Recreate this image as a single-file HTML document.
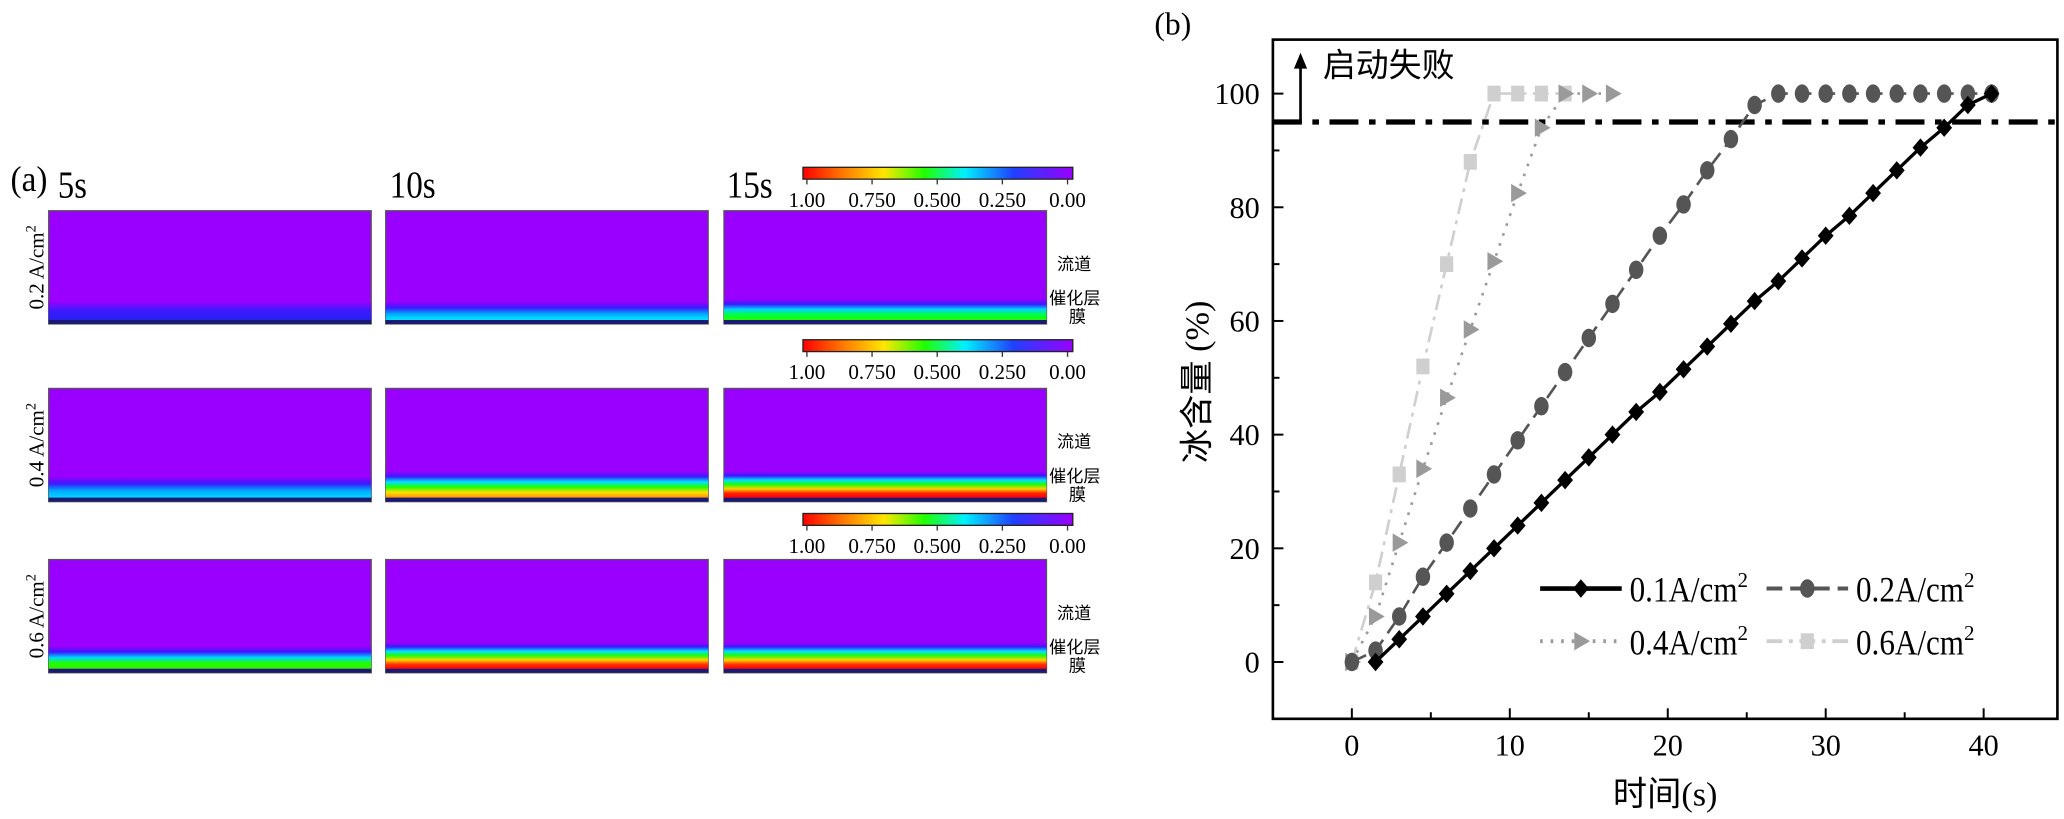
<!DOCTYPE html>
<html><head><meta charset="utf-8"><style>
html,body{margin:0;padding:0;background:#fff;}
svg{display:block;}
text{font-family:"Liberation Serif","Noto Serif CJK SC",serif;}
.cjk{font-family:"Liberation Serif","Noto Sans CJK SC",sans-serif;}
</style></head><body>
<svg id="fig" width="2064" height="819" viewBox="0 0 1568 622" xmlns="http://www.w3.org/2000/svg">
<defs>
<linearGradient id="cbar" x1="0" x2="1" y1="0" y2="0">
<stop offset="0" stop-color="#ff0000"/><stop offset="0.15" stop-color="#ff7a00"/><stop offset="0.3" stop-color="#ffe600"/><stop offset="0.45" stop-color="#20ff00"/><stop offset="0.6" stop-color="#00f0ff"/><stop offset="0.78" stop-color="#2040ff"/><stop offset="1" stop-color="#9a00ff"/>
</linearGradient>
</defs>
<g id="panelA">
<text x="8" y="145" font-size="27" textLength="28" lengthAdjust="spacingAndGlyphs">(a)</text>
<text x="44" y="150" font-size="29" textLength="22" lengthAdjust="spacingAndGlyphs">5s</text>
<text x="296" y="150" font-size="29" textLength="35" lengthAdjust="spacingAndGlyphs">10s</text>
<text x="552" y="150" font-size="29" textLength="35" lengthAdjust="spacingAndGlyphs">15s</text>
</g>
<g id="panelB"></g>
</svg>
<script>
const NS='http://www.w3.org/2000/svg';
function mk(tag,attrs,parent){const e=document.createElementNS(NS,tag);for(const k in attrs)e.setAttribute(k,attrs[k]);parent.appendChild(e);return e;}
const svg=document.getElementById('fig');
const defs=svg.querySelector('defs');
const pA=document.getElementById('panelA');
const pB=document.getElementById('panelB');

// ---- Panel (a) ----
const rowLabels=['0.2 A/cm','0.4 A/cm','0.6 A/cm'];
const rowTops=[160,295,425];
const colLefts=[37,293,550];
const bandColors=[
 [['#9a00ff','#3a1aff','#2a20f0'],['#9a00ff','#3a1aff','#00a8ff','#00e8ff'],['#9a00ff','#3a1aff','#00d8ff','#00ff40','#20ff00']],
 [['#9a00ff','#3a1aff','#00a8ff','#00d8ff'],['#9a00ff','#3a1aff','#00e0ff','#20ff00','#ffe000','#ff9000'],['#9a00ff','#3a1aff','#00e0ff','#20ff00','#ffd000','#ff2000','#ff0000']],
 [['#9a00ff','#3a1aff','#00d8ff','#20ff00','#30f000'],['#9a00ff','#3a1aff','#00e0ff','#20ff00','#ffd000','#ff3000','#ff0000'],['#9a00ff','#3a1aff','#00e0ff','#20ff00','#ffd000','#ff3000','#ff0000']]
];
const bandH=[[14,14,16],[16,20,20],[17,20,20]];
const W=245,H=86;
rowTops.forEach((ty,r)=>{
  const lbl=mk('text',{x:0,y:0,'font-size':16,'text-anchor':'middle',transform:`translate(33,${ty+H/2}) rotate(-90)`},pA);
  lbl.textContent=rowLabels[r];
  const sp=mk('tspan',{dy:-6,'font-size':11},lbl);sp.textContent='2';
  
  
  colLefts.forEach((lx,c)=>{
    const g=mk('g',{},pA);
    
    
    mk('rect',{x:lx,y:ty,width:W,height:H,fill:'#9a00ff',stroke:'#555','stroke-width':1},g);
    const id=`gr${r}${c}`;
    const lg=mk('linearGradient',{id:id,x1:0,x2:0,y1:0,y2:1},defs);
    const cols=bandColors[r][c];
    cols.forEach((col,i)=>mk('stop',{offset:i/(cols.length-1),'stop-color':col},lg));
    const bh=bandH[r][c];
    mk('rect',{x:lx,y:ty+H-bh-3,width:W,height:bh,fill:`url(#${id})`},g);
    mk('rect',{x:lx,y:ty+H-3,width:W,height:3,fill:'#1a1a70'},g);
  });
  const tl=[['流道',803,ty+45],['催化层',797,ty+71],['膜',812,ty+85]];
  tl.forEach(([s,x,y],i)=>{
    const t=mk('text',{x:x,y:y,'font-size':13,class:'cjk'},pA);
    t.textContent=s;
    
    
  });
});
const cbarTops=[127,258,390];
const cbarTicks=['1.00','0.750','0.500','0.250','0.00'];
cbarTops.forEach((cy,i)=>{
  const g=mk('g',{},pA);
  
  
  mk('rect',{x:610,y:cy,width:205,height:9,fill:'url(#cbar)',stroke:'#222','stroke-width':1},g);
  cbarTicks.forEach((s,k)=>{
    const x=613+k*49.5;
    mk('line',{x1:x,x2:x,y1:cy+9,y2:cy+13,stroke:'#333'},g);
    const t=mk('text',{x:x,y:cy+30,'font-size':16,'text-anchor':'middle'},g);
    t.textContent=s;
    
    
  });
});

// ---- Panel (b) chart data ----
const xTickLabels=[0,10,20,30,40];
const yTickLabels=[0,20,40,60,80,100];
const t01=[1.5,3,4.5,6,7.5,9,10.5,12,13.5,15,16.5,18,19.5,21,22.5,24,25.5,27,28.5,30,31.5,33,34.5,36,37.5,39,40.5];
const v01=[0,4,8,12,16,20,24,28,32,36,40,44,47.5,51.5,55.5,59.5,63.5,67,71,75,78.5,82.5,86.5,90.5,94,98,100];
const t02=[0,1.5,3,4.5,6,7.5,9,10.5,12,13.5,15,16.5,18,19.5,21,22.5,24,25.5,27,28.5,30,31.5,33,34.5,36,37.5,39,40.5];
const v02=[0,2,8,15,21,27,33,39,45,51,57,63,69,75,80.5,86.5,92,98,100,100,100,100,100,100,100,100,100,100];
const t04=[0,1.5,3,4.5,6,7.5,9,10.5,12,13.5,15,16.5];
const v04=[0,8,21,34,46.5,58.5,70.5,82.5,94,100,100,100];
const t06=[0,1.5,3,4.5,6,7.5,9,10.5,12,13.5];
const v06=[0,14,33,52,70,88,100,100,100,100];
const threshold=95;

const X0=967,X1=1563,Y0=30,Y1=546;
const xmin=-5,xmax=44.67,ymin=-10,ymax=109.5;
const sx=v=>X0+(v-xmin)/(xmax-xmin)*(X1-X0);
const sy=v=>Y1-(v-ymin)/(ymax-ymin)*(Y1-Y0);

const frame=mk('rect',{x:X0,y:Y0,width:X1-X0,height:Y1-Y0,fill:'none',stroke:'#000','stroke-width':2},pB);


const pl=mk('text',{x:877,y:26,'font-size':24},pB);pl.textContent='(b)';



xTickLabels.forEach(v=>{
  mk('line',{x1:sx(v),x2:sx(v),y1:Y1,y2:Y1-8,stroke:'#000','stroke-width':1.5},pB);
  const t=mk('text',{x:sx(v),y:Y1+28,'font-size':23,'text-anchor':'middle'},pB);t.textContent=v;
  
  
});
for(let v=5;v<=45;v+=10){ if(v<xmax) mk('line',{x1:sx(v),x2:sx(v),y1:Y1,y2:Y1-5,stroke:'#000','stroke-width':1.5},pB); }
yTickLabels.forEach(v=>{
  mk('line',{x1:X0,x2:X0+8,y1:sy(v),y2:sy(v),stroke:'#000','stroke-width':1.5},pB);
  const t=mk('text',{x:X0-10,y:sy(v)+8,'font-size':23,'text-anchor':'end'},pB);t.textContent=v;
  
  
});
for(let v=10;v<=90;v+=20) mk('line',{x1:X0,x2:X0+5,y1:sy(v),y2:sy(v),stroke:'#000','stroke-width':1.5},pB);

const xt=mk('text',{x:1265,y:612,'font-size':26,'text-anchor':'middle',class:'cjk'},pB);xt.textContent='时间(s)';


const yt=mk('text',{x:0,y:0,'font-size':26,'text-anchor':'middle',class:'cjk',transform:'translate(918,290) rotate(-90)'},pB);yt.textContent='冰含量 (%)';



const th=mk('line',{x1:X0,x2:X1,y1:sy(threshold),y2:sy(threshold),stroke:'#000','stroke-width':4,'stroke-dasharray':'22 8 5 8'},pB);


const ar=mk('path',{d:`M${X0} ${sy(threshold)} H988 V50`,fill:'none',stroke:'#000','stroke-width':2},pB);


mk('path',{d:'M983 52 L988 40 L993 52 Z',fill:'#000'},pB);
const ft=mk('text',{x:1005,y:58,'font-size':25,class:'cjk'},pB);ft.textContent='启动失败';



function marker(shape,x,y,col,parent){
  if(shape==='diamond') return mk('path',{d:`M${x} ${y-7} L${x+6} ${y} L${x} ${y+7} L${x-6} ${y} Z`,fill:col},parent);
  if(shape==='circle') return mk('ellipse',{cx:x,cy:y,rx:5.5,ry:7,fill:col},parent);
  if(shape==='tri') return mk('path',{d:`M${x-5} ${y-7} L${x+7} ${y} L${x-5} ${y+7} Z`,fill:col},parent);
  return mk('rect',{x:x-5,y:y-6,width:10,height:12,fill:col},parent);
}
const series=[
 {name:'0.6',t:t06,v:v06,col:'#cfcfcf',dash:'12 5 3 5',w:2,shape:'square'},
 {name:'0.4',t:t04,v:v04,col:'#9a9a9a',dash:'2 6',w:2,shape:'tri'},
 {name:'0.2',t:t02,v:v02,col:'#555555',dash:'12 6',w:2,shape:'circle'},
 {name:'0.1',t:t01,v:v01,col:'#000000',dash:'',w:2.5,shape:'diamond'}
];
series.forEach(s=>{
  const g=mk('g',{},pB);
  
  
  const pts=s.t.map((t,i)=>sx(t)+','+sy(s.v[i])).join(' ');
  const a={points:pts,fill:'none',stroke:s.col,'stroke-width':s.w};
  if(s.dash)a['stroke-dasharray']=s.dash;
  mk('polyline',a,g);
  s.t.forEach((t,i)=>{
    const m=marker(s.shape,sx(t),sy(s.v[i]),s.col,g);
    
    
  });
});
const leg=mk('g',{},pB);


const legItems=[
 {label:'0.1A/cm',x:1170,y:447,s:series[3]},
 {label:'0.2A/cm',x:1342,y:447,s:series[2]},
 {label:'0.4A/cm',x:1170,y:487,s:series[1]},
 {label:'0.6A/cm',x:1342,y:487,s:series[0]}
];
legItems.forEach(it=>{
  const g=mk('g',{},leg);
  
  
  const a={x1:it.x,x2:it.x+62,y1:it.y,y2:it.y,stroke:it.s.col,'stroke-width':it.s.name==='0.1'?3.5:3};
  if(it.s.dash)a['stroke-dasharray']=it.s.dash;
  mk('line',a,g);
  marker(it.s.shape,it.x+31,it.y,it.s.col,g);
  const t=mk('text',{x:it.x+68,y:it.y+10,'font-size':27},g);
  const m=mk('tspan',{textLength:82,lengthAdjust:'spacingAndGlyphs'},t);m.textContent=it.label;
  const sup=mk('tspan',{dy:-11,'font-size':16},t);sup.textContent='2';
});
</script>
</body></html>
